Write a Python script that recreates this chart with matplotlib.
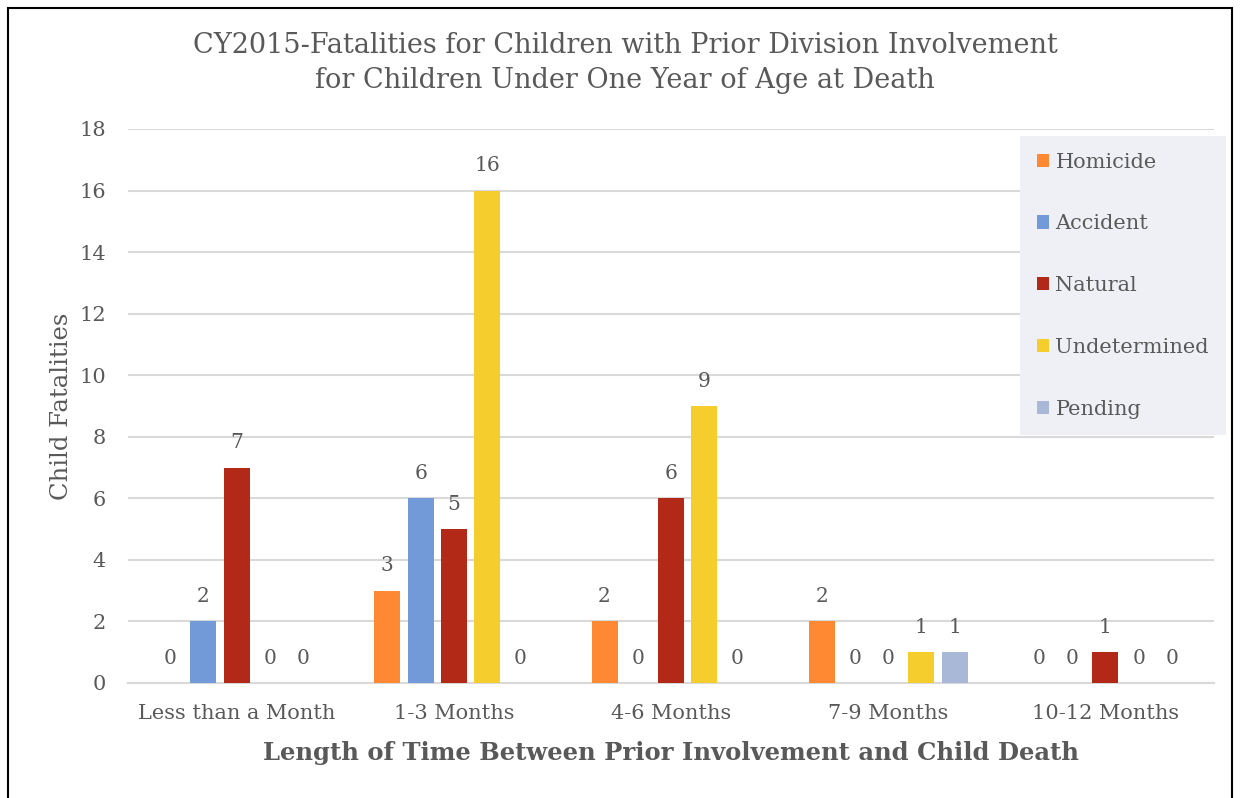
import numpy as np
import matplotlib.pyplot as plt
from matplotlib.patches import Rectangle

plt.rcParams['font.family'] = ['DejaVu Serif']

groups = ['Less than a Month', '1-3 Months', '4-6 Months', '7-9 Months', '10-12 Months']
series = ['Homicide', 'Accident', 'Natural', 'Undetermined', 'Pending']
homicide = [0, 3, 2, 2, 0]
accident = [2, 6, 0, 0, 0]
natural = [7, 5, 6, 0, 1]
undetermined = [0, 16, 9, 1, 0]
pending = [0, 0, 0, 1, 0]
colors = ['#FF8833', '#739AD8', '#B22A17', '#F5CD2D', '#A9B8D6']

txt = '#595959'

fig = plt.figure(figsize=(12.44, 7.98), dpi=100)
ax = fig.add_axes([128/1244, 1-683/798, (1214-128)/1244, (683-129)/798])

x = np.arange(len(groups))
width = 0.12
step = 0.153
for i, (name, vals) in enumerate(zip(series, [homicide, accident, natural, undetermined, pending])):
    pos = x + (i - 2) * step
    ax.bar(pos, vals, width, color=colors[i], label=name, zorder=3)
    for px, v in zip(pos, vals):
        ax.annotate(str(v), (px, v), xytext=(0, 11), textcoords='offset points',
                    ha='center', va='bottom', fontsize=14.5, color=txt)

ax.set_xlim(-0.5, 4.5)
ax.set_ylim(0, 18)
ax.set_yticks(range(0, 19, 2))
ax.set_xticks(x)
ax.set_xticklabels(groups)
ax.tick_params(length=0, labelsize=15, labelcolor=txt)
ax.tick_params(axis='x', pad=15)
ax.tick_params(axis='y', pad=16)
ax.grid(axis='y', color='#D9D9D9', linewidth=1.5, zorder=0)
for s in ['top', 'right', 'left']:
    ax.spines[s].set_visible(False)
ax.spines['bottom'].set_color('#D9D9D9')
ax.spines['bottom'].set_linewidth(1.5)

ax.set_ylabel('Child Fatalities', fontsize=17.5, color=txt, labelpad=4)
ax.set_xlabel('Length of Time Between Prior Involvement and Child Death',
              fontsize=17.5, color=txt, fontweight='bold', labelpad=13)

fig.text(625/1244, 1-63/798, 'CY2015-Fatalities for Children with Prior Division Involvement\nfor Children Under One Year of Age at Death',
         ha='center', va='center', fontsize=19.5, color=txt, linespacing=1.4)

leg = ax.legend(loc='upper left', bbox_to_anchor=(1020/1244, 1-136/798),
                bbox_transform=fig.transFigure, frameon=True, fancybox=False,
                facecolor='#EFF0F5', edgecolor='none', framealpha=1,
                fontsize=15, labelcolor=txt, handlelength=0.6, handleheight=0.6,
                handletextpad=0.3, labelspacing=2.05, borderpad=0.8, borderaxespad=0)

fig.patches.append(Rectangle((8/1244, -0.1), (1232-8)/1244, 1.1 - 8/798,
                             transform=fig.transFigure, fill=False,
                             edgecolor='black', linewidth=1.5))

fig.savefig('out.png', dpi=100)
